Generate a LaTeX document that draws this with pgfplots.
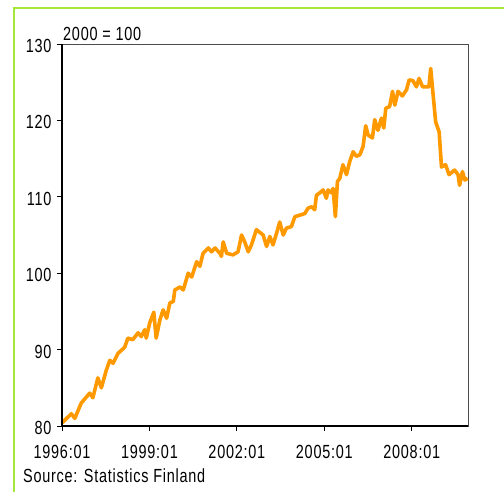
\documentclass[border=0pt]{standalone}
\usepackage{fontspec}
\setmainfont{Liberation Sans}[FakeStretch=0.76,LetterSpace=4]
\usepackage{pgfplots}
\pgfplotsset{compat=1.18}
\definecolor{lineorange}{RGB}{255,153,0}
\definecolor{framegreen}{RGB}{166,232,58}

\begin{document}
\begin{tikzpicture}
\useasboundingbox (0pt,0pt) rectangle (504pt,492pt);
\draw[framegreen, line width=2.6pt] (14pt,0pt) -- (14pt,484pt) -- (504pt,484pt);
\begin{axis}[
    at={(62pt,66pt)}, anchor=south west,
    scale only axis, width=406pt, height=382pt,
    xmin=1996, xmax=2009.93, ymin=80, ymax=130,
    xtick={1996,1999,2002,2005,2008},
    xticklabels={1996:01,1999:01,2002:01,2005:01,2008:01},
    ytick={80,90,...,130},
    tick align=outside, tick pos=left,
    major tick length=5pt,
    tick style={black, line width=0.8pt},
    axis line style={draw=black!70, line width=0.8pt},
    ticklabel style={font=\fontsize{19}{19}\selectfont},
    xticklabel style={yshift=-11pt},
    yticklabel style={xshift=-2pt, yshift=-2pt},
    /pgf/number format/assume math mode=true,
    clip=false,
]
\addplot[color=lineorange, line width=3.6pt, line join=round] coordinates {
    (1996.00,80.4) (1996.32,81.6) (1996.44,81.0) (1996.66,83.0) (1996.95,84.3)
    (1997.06,83.7) (1997.23,86.3) (1997.35,85.0) (1997.52,87.3) (1997.64,88.6)
    (1997.75,88.2) (1997.92,89.5) (1998.15,90.3) (1998.26,91.5) (1998.43,91.3)
    (1998.61,92.2) (1998.72,91.7) (1998.84,92.6) (1998.89,91.5) (1999.01,93.5)
    (1999.15,94.9) (1999.23,91.5) (1999.36,93.9) (1999.47,95.2) (1999.59,94.1)
    (1999.70,96.1) (1999.82,96.3) (1999.87,97.8) (2000.05,98.2) (2000.16,97.8)
    (2000.33,100.0) (2000.45,99.5) (2000.62,101.5) (2000.73,100.9) (2000.84,102.6)
    (2001.02,103.3) (2001.13,102.8) (2001.25,103.3) (2001.42,102.6) (2001.47,102.2)
    (2001.53,104.1) (2001.65,102.6) (2001.87,102.4) (2002.04,102.8) (2002.16,105.0)
    (2002.27,104.1) (2002.39,102.8) (2002.50,103.7) (2002.67,105.7) (2002.90,105.0)
    (2003.02,103.5) (2003.13,104.8) (2003.24,103.7) (2003.36,105.2) (2003.47,106.7)
    (2003.59,105.0) (2003.70,105.9) (2003.87,106.1) (2003.99,107.4) (2004.16,107.6)
    (2004.33,107.8) (2004.44,108.5) (2004.56,108.7) (2004.67,108.3) (2004.73,110.2)
    (2004.84,110.5) (2004.96,110.9) (2005.07,109.8) (2005.13,110.9) (2005.25,110.5)
    (2005.30,111.1) (2005.38,107.4) (2005.45,112.0) (2005.53,112.4) (2005.64,114.2)
    (2005.76,112.9) (2005.87,114.6) (2005.99,115.9) (2006.10,115.3) (2006.22,115.5)
    (2006.33,116.6) (2006.42,119.3) (2006.50,118.1) (2006.65,117.7) (2006.73,120.1)
    (2006.84,118.7) (2006.96,120.3) (2007.04,119.0) (2007.11,121.6) (2007.24,121.8)
    (2007.34,123.8) (2007.42,122.0) (2007.53,123.8) (2007.68,123.2) (2007.82,124.0)
    (2007.91,125.3) (2008.04,125.2) (2008.16,124.4) (2008.25,125.5) (2008.37,124.4)
    (2008.50,124.4) (2008.59,124.4) (2008.65,126.8) (2008.82,119.8) (2008.94,118.5)
    (2009.02,113.9) (2009.16,114.2) (2009.28,112.9) (2009.47,113.5) (2009.59,112.9)
    (2009.64,111.5) (2009.74,113.3) (2009.82,112.2) (2009.92,112.4)
};
\end{axis}
% darker left and bottom axis lines
\draw[black, line width=1.2pt] (62pt,448pt) -- (62pt,66pt) -- (468pt,66pt);
\node[anchor=base west, inner sep=0pt, font=\fontsize{19}{19}\selectfont] at (63pt,451pt) {2000 = 100};
\node[anchor=base west, inner sep=0pt, font=\fontsize{19}{19}\selectfont] at (23pt,9pt) {Source: Statistics Finland};
\end{tikzpicture}
\end{document}
